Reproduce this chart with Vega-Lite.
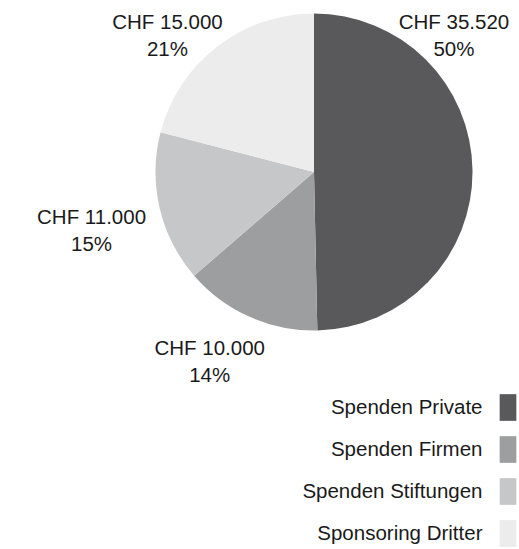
{
  "$schema": "https://vega.github.io/schema/vega-lite/v6.json",
  "width": 317,
  "height": 317,
  "autosize": {"type": "none"},
  "padding": {"left": 155.5, "top": 13.5, "right": 46.5, "bottom": 218.5},
  "background": "white",
  "config": {"view": {"stroke": null}, "font": "Liberation Sans"},
  "data": {
    "values": [
      {"category": "Spenden Private", "value": 35520},
      {"category": "Spenden Firmen", "value": 10000},
      {"category": "Spenden Stiftungen", "value": 11000},
      {"category": "Sponsoring Dritter", "value": 15000}
    ]
  },
  "transform": [
    {"joinaggregate": [{"op": "sum", "field": "value", "as": "total"}]},
    {"calculate": "indexof(['Spenden Private','Spenden Firmen','Spenden Stiftungen','Sponsoring Dritter'], datum.category)", "as": "rank"},
    {"calculate": "['CHF ' + replace(format(datum.value, ','), ',', '.'), format(datum.value / datum.total, '.0%')]", "as": "label"}
  ],
  "encoding": {
    "theta": {"field": "value", "type": "quantitative", "stack": true},
    "order": {"field": "rank", "type": "quantitative"}
  },
  "layer": [
    {
      "mark": {"type": "arc"},
      "encoding": {
        "color": {
          "field": "category",
          "type": "nominal",
          "scale": {
            "domain": ["Spenden Private", "Spenden Firmen", "Spenden Stiftungen", "Sponsoring Dritter"],
            "range": ["#59595b", "#9d9ea0", "#c6c7c9", "#ebeceb"]
          },
          "legend": {
            "orient": "none",
            "legendX": 339,
            "legendY": 380.5,
            "title": null,
            "padding": 0,
            "symbolType": "M-0.625,-1H0.625V1H-0.625Z",
            "symbolSize": 713,
            "symbolStrokeWidth": 0,
            "labelAlign": "right",
            "labelOffset": -39,
            "labelFontSize": 20.5,
            "labelColor": "#1a1a1a",
            "labelLimit": 400,
            "rowPadding": 15
          }
        }
      }
    },
    {
      "mark": {
        "type": "text",
        "radius": 210,
        "fontSize": 20.5,
        "lineHeight": 27,
        "color": "#1a1a1a",
        "dx": {"expr": "datum.category === 'Spenden Private' ? -70 : datum.category === 'Spenden Firmen' ? -19 : -18"},
        "dy": {"expr": "datum.category === 'Spenden Private' ? -147 : datum.category === 'Spenden Firmen' ? -15 : datum.category === 'Spenden Stiftungen' ? -1.5 : 17"}
      },
      "encoding": {
        "text": {"field": "label"}
      }
    }
  ]
}
